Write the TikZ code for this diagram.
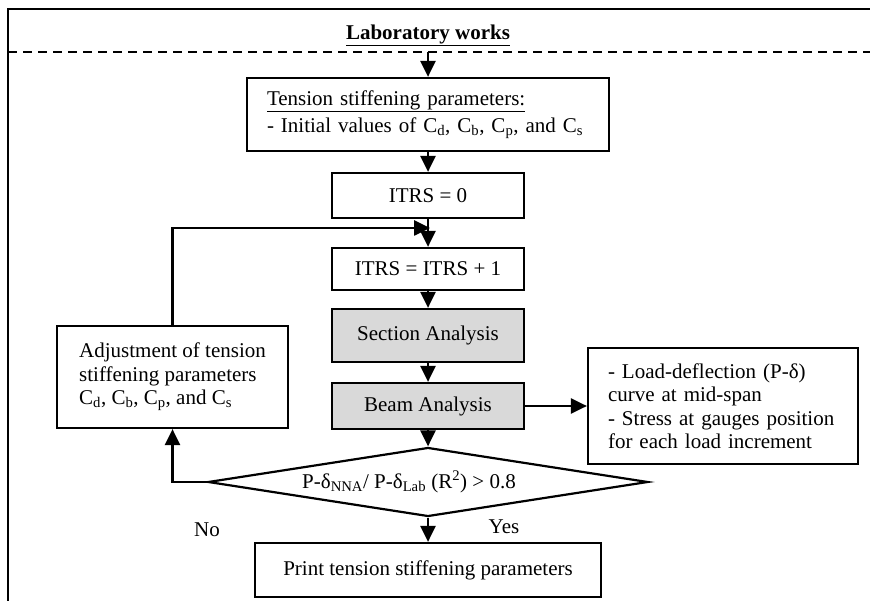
\documentclass[tikz,border=0pt]{standalone}
\usepackage{fontspec}
\setmainfont{Liberation Serif}
\usetikzlibrary{arrows.meta,positioning,shapes.geometric}
\definecolor{shade}{RGB}{217,217,217}

\begin{document}
\begin{tikzpicture}[
  x=1pt, y=-1pt,
  font=\fontsize{21}{23.5}\selectfont,
  box/.style={draw, line width=2.2pt, align=center, inner sep=0pt, minimum width=192pt},
  gbox/.style={box, fill=shade},
  txtbox/.style={draw, line width=2.2pt, align=left, inner xsep=20pt, inner ysep=0pt},
  arr/.style={-{Triangle[length=16pt,width=15pt]}, line width=2.6pt},
  note/.style={inner sep=0pt}
]
\useasboundingbox (0,0) rectangle (870,601);

% frame and header
\draw[line width=2pt] (8,601) -- (8,9) -- (870,9);
\draw[line width=1.8pt, dash pattern=on 9pt off 6pt] (8,52) -- (870,52);
\node[note, font=\fontsize{21}{24}\selectfont\bfseries, anchor=base] (lab) at (428,39.5) {\underline{Laboratory works}};
\coordinate (entry) at (428,52);

% main column
\node[txtbox, text width=322pt, minimum height=73pt] (init) at (428,114.5)
  {\underline{Tension stiffening parameters:}\\[3pt]
   - Initial values of C\textsubscript{d}, C\textsubscript{b}, C\textsubscript{p}, and C\textsubscript{s}};
\node[box, minimum height=45pt] (zero) at (428,195.5) {ITRS = 0};
\node[box, minimum height=42pt] (incr) at (428,269) {ITRS = ITRS + 1};
\node[gbox, minimum height=53pt] (sect) at (428,335.5) {Section Analysis};
\node[gbox, minimum height=46pt] (beam) at (428,406) {Beam Analysis};
\node[diamond, draw, line width=2.2pt, inner sep=0pt, minimum width=440pt, minimum height=69pt] (check) at (428,482) {};
\node[note] (cond) at (409,482) {P-δ\textsubscript{NNA}/ P-δ\textsubscript{Lab} (R\textsuperscript{2}) > 0.8};
\node[box, minimum width=346pt, minimum height=54pt] (print) at (428,570) {Print tension stiffening parameters};

% side boxes
\node[txtbox, text width=230pt, minimum height=116pt] (out) at (723,406)
  {- Load-deflection (P-δ)\\curve at mid-span\\- Stress at gauges position\\for each load increment};
\node[txtbox, minimum width=231pt, minimum height=102pt] (adj) at (172.5,377)
  {Adjustment of tension\\stiffening parameters\\C\textsubscript{d}, C\textsubscript{b}, C\textsubscript{p}, and C\textsubscript{s}};
\coordinate (join) at (430,228);

\node[note] (no) at (207,530) {No};
\node[note] (yes) at (504,527) {Yes};

\draw[arr] (entry) -- (init.north);
\draw[arr] (init.south) -- (zero.north);
\draw[arr] (zero.south) -- (incr.north);
\draw[arr] (incr.south) -- (sect.north);
\draw[arr] (sect.south) -- (beam.north);
\draw[arr] (beam.south) -- (check.north);
\draw[arr] (check.south) -- (print.north);
\draw[arr] (beam.east) -- (out.west);
\draw[arr] (check.west) -| (adj.south);
\draw[arr] (adj.north) |- (join);
\end{tikzpicture}
\end{document}
